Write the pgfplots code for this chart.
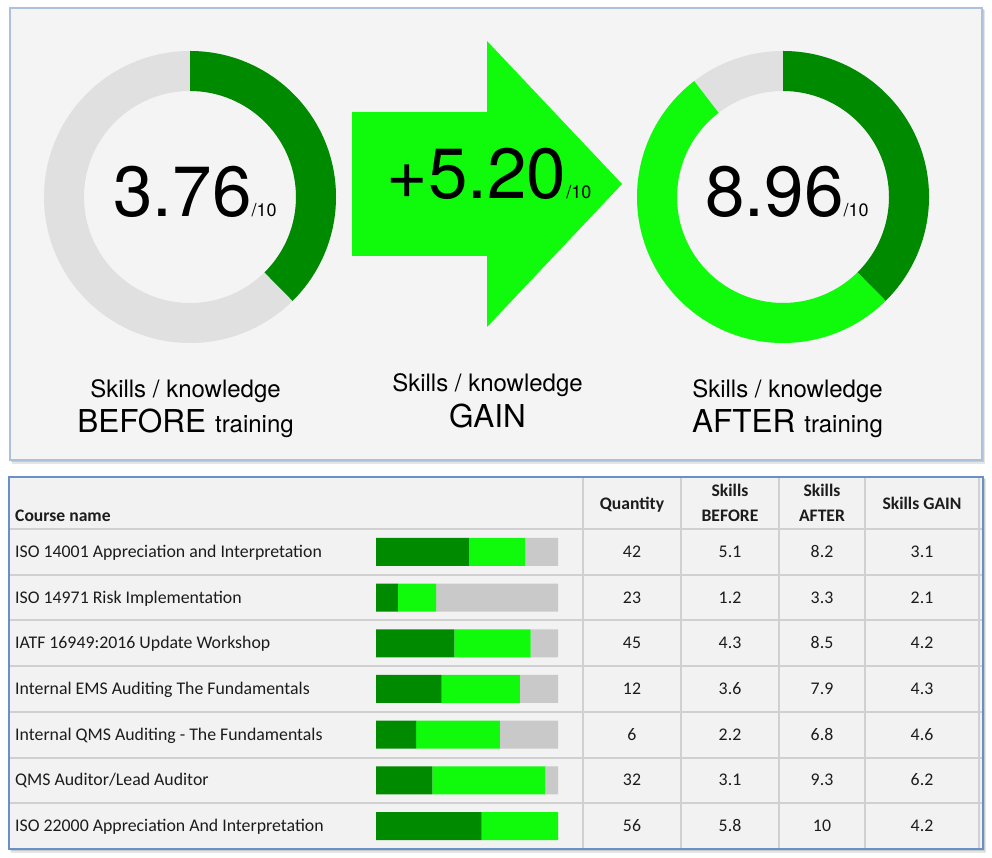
\documentclass[border=0pt]{standalone}
\usepackage{pgfplots}
\pgfplotsset{compat=1.18}
\usepackage{pgfplotstable}
\usepackage{fontspec}
\setmainfont{TeX Gyre Heros}
\newfontfamily\calibri{Carlito}

\definecolor{dkgreen}{RGB}{0,138,0}
\definecolor{ltgreen}{RGB}{16,250,12}
\definecolor{ringgray}{RGB}{224,224,224}
\definecolor{bargray}{RGB}{201,201,201}
\definecolor{panelbg}{RGB}{244,244,244}
\definecolor{tablebg}{RGB}{242,242,242}
\definecolor{topborder}{RGB}{172,194,220}
\definecolor{tblborder}{RGB}{104,146,198}
\definecolor{gridgray}{RGB}{208,208,208}
\definecolor{tbltext}{RGB}{28,28,28}

% overall scores
\pgfplotstableread{
before after gain
3.76 8.96 5.20
}\summary

% per course: before, gain, rest up to 10
\pgfplotstableread{
row before gain rest
1 5.1 3.1 1.8
2 1.2 2.1 6.7
3 4.3 4.2 1.5
4 3.6 4.3 2.1
5 2.2 4.6 3.2
6 3.1 6.2 0.7
7 5.8 4.2 0.0
}\courses

\pgfplotstablegetelem{0}{before}\of\summary \let\before\pgfplotsretval
\pgfplotstablegetelem{0}{after}\of\summary \let\after\pgfplotsretval
\pgfplotstablegetelem{0}{gain}\of\summary \let\gain\pgfplotsretval

% ring segment: cx, cy, from, to (out of 10), colour
\newcommand\seg[5]{%
  \fill[#5, shift={(axis cs:#1,#2)}]
    ({90-36*(#3)}:146pt) arc[start angle={90-36*(#3)}, end angle={90-36*(#4)}, radius=146pt]
    -- ({90-36*(#4)}:106pt) arc[start angle={90-36*(#4)}, end angle={90-36*(#3)}, radius=106pt]
    -- cycle;}

\newcommand\score[1]{{\fontsize{71}{71}\selectfont #1}{\fontsize{18}{18}\selectfont /10}}
\newcommand\stagecap[2]{{\fontsize{31.5}{31.5}\selectfont #1}\hspace{9pt}{\fontsize{24}{24}\selectfont #2}}

\begin{document}
\begin{tikzpicture}

% panels, grid and text, in pixel units (y down)
\begin{scope}[shift={(0pt,858pt)}, x=1pt, y=-1pt]
  \path (0,0) rectangle (992,858);
  % top panel
  \fill[black, opacity=0.10] (12,10) rectangle (985,464);
  \fill[black, opacity=0.12] (11,9) rectangle (984,462);
  \draw[topborder, line width=1.5pt, fill=panelbg] (10,8) rectangle (982,460);
  % table panel
  \fill[black, opacity=0.10] (11,479) rectangle (986,853);
  \fill[black, opacity=0.12] (10,478) rectangle (985,851);
  \fill[tablebg] (9,477) rectangle (983,849);
  \foreach \k in {0,...,6}
    \draw[gridgray, line width=2pt] (10,{529+\k*45.714}) -- (982,{529+\k*45.714});
  \foreach \xx in {583,681,779,865,979}
    \draw[gridgray, line width=2pt] (\xx,478) -- (\xx,848);
  \draw[tblborder, line width=1.5pt] (9,477) rectangle (983,849);

  % arrow
  \fill[ltgreen] (352,112) -- (487,112) -- (487,41) -- (622,184) -- (487,327) -- (487,256) -- (352,256) -- cycle;

  % big numbers
  \node[anchor=base, inner sep=0] at (195,217) {\score{\before}};
  \node[anchor=base, inner sep=0] at (489,199) {\score{+\gain}};
  \node[anchor=base, inner sep=0] at (787,217) {\score{\after}};

  % captions
  \node[anchor=base, inner sep=0] at (185.5,398) {\fontsize{24}{24}\selectfont Skills / knowledge};
  \node[anchor=base, inner sep=0] at (185.5,433) {\stagecap{BEFORE}{training}};
  \node[anchor=base, inner sep=0] at (487.5,392) {\fontsize{24}{24}\selectfont Skills / knowledge};
  \node[anchor=base, inner sep=0] at (487.5,428) {\fontsize{31.5}{31.5}\selectfont GAIN};
  \node[anchor=base, inner sep=0] at (787.5,398) {\fontsize{24}{24}\selectfont Skills / knowledge};
  \node[anchor=base, inner sep=0] at (787.5,433) {\stagecap{AFTER}{training}};

  % table header
  \begin{scope}[every node/.style={inner sep=0, text=tbltext, font=\calibri\bfseries\fontsize{17.6}{17.6}\selectfont}]
    \node[anchor=base west] at (15,521.5) {Course name};
    \node[anchor=base] at (632,509.5) {Quantity};
    \node[anchor=base] at (730,496.5) {Skills};
    \node[anchor=base] at (730,521.5) {BEFORE};
    \node[anchor=base] at (822,496.5) {Skills};
    \node[anchor=base] at (822,521.5) {AFTER};
    \node[anchor=base] at (922,509.5) {Skills GAIN};
  \end{scope}

  % table rows
  \begin{scope}[every node/.style={inner sep=0, text=tbltext, font=\calibri\fontsize{17.8}{17.8}\selectfont}]
    \foreach \i/\name/\q/\b/\a/\g in {
      1/{ISO 14001 Appreciation and Interpretation}/42/5.1/8.2/3.1,
      2/{ISO 14971 Risk Implementation}/23/1.2/3.3/2.1,
      3/{IATF 16949:2016 Update Workshop}/45/4.3/8.5/4.2,
      4/{Internal EMS Auditing The Fundamentals}/12/3.6/7.9/4.3,
      5/{Internal QMS Auditing - The Fundamentals}/6/2.2/6.8/4.6,
      6/{QMS Auditor/Lead Auditor}/32/3.1/9.3/6.2,
      7/{ISO 22000 Appreciation And Interpretation}/56/5.8/10/4.2}{
      \pgfmathsetmacro\yy{529+(\i-0.5)*45.714+5.5}
      \node[anchor=base west] at (15,\yy) {\name};
      \node[anchor=base] at (632,\yy) {\q};
      \node[anchor=base] at (730,\yy) {\b};
      \node[anchor=base] at (822,\yy) {\a};
      \node[anchor=base] at (922,\yy) {\g};
    }
  \end{scope}
\end{scope}

% donuts, in a pixel-unit axis over the whole picture
\begin{axis}[
    at={(0pt,0pt)}, anchor=south west,
    scale only axis, width=992pt, height=858pt,
    xmin=0, xmax=992, ymin=0, ymax=858, y dir=reverse,
    hide axis, clip=false]
  \addplot[draw=none] coordinates {(0,0)};
  \seg{190}{197}{0}{10}{ringgray}
  \seg{190}{197}{0}{\before}{dkgreen}
  \seg{783}{197}{0}{10}{ringgray}
  \seg{783}{197}{0}{\before}{dkgreen}
  \seg{783}{197}{\before}{\after}{ltgreen}
\end{axis}

% stacked progress bars of the table
\begin{axis}[
    at={(376pt,329pt)}, anchor=north west,
    scale only axis, width=182pt, height=320pt,
    xmin=0, xmax=10, ymin=0.5, ymax=7.5, y dir=reverse,
    xbar stacked, bar width=28pt,
    hide axis]
  \addplot[fill=dkgreen, draw=none] table[x=before, y=row] {\courses};
  \addplot[fill=ltgreen, draw=none] table[x=gain, y=row] {\courses};
  \addplot[fill=bargray, draw=none] table[x=rest, y=row] {\courses};
\end{axis}

\end{tikzpicture}
\end{document}
